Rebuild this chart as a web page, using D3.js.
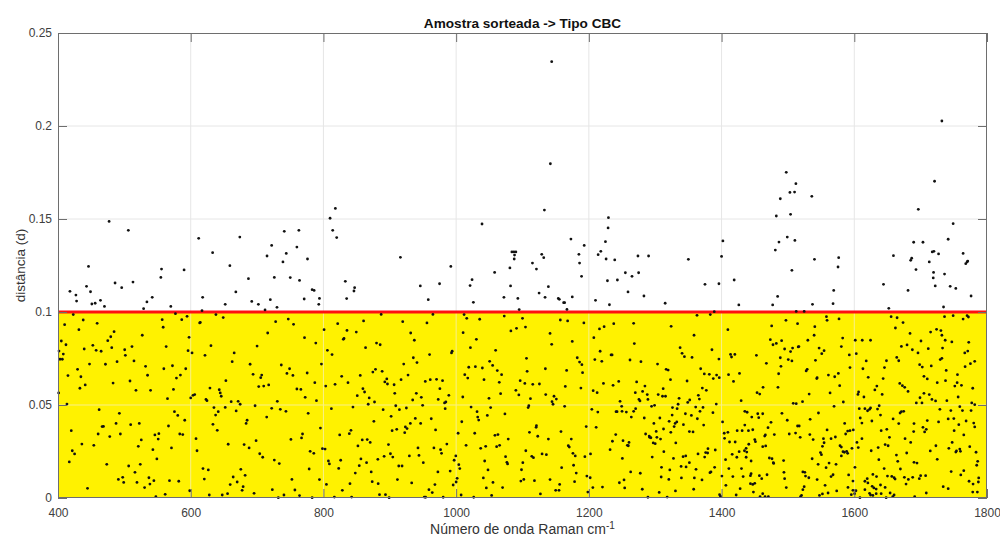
<!DOCTYPE html>
<html>
<head>
<meta charset="utf-8">
<script src="https://cdn.jsdelivr.net/npm/d3@7"></script>
<style>
  html, body { margin: 0; padding: 0; background: #fff; }
  svg { display: block; font-family: "Liberation Sans", Arial, Helvetica, sans-serif; }
</style>
</head>
<body>
<svg id="chart" width="1000" height="536"></svg>
<script>
// ---------------- data ----------------
const title = "Amostra sorteada -> Tipo CBC";
const xLabel = "Número de onda Raman cm";
const xLabelSup = "-1";
const yLabel = "distância (d)";
const xDomain = [400, 1800];
const yDomain = [0, 0.25];
const xTicks = [400, 600, 800, 1000, 1200, 1400, 1600, 1800];
const yTicks = [0, 0.05, 0.1, 0.15, 0.2, 0.25];
const threshold = 0.1;

// points above the threshold line [wavenumber, distance]
const pointsAbove = [
[418,0.1111],[427,0.1091],[428,0.1059],[443,0.1138],[446,0.1245],[449,0.1109],[451,0.1043],[456,0.1047],[464,0.1063],[470,0.1030],[477,0.1487],[486,0.1156],[496,0.1131],[506,0.1439],[513,0.1161],[529,0.1018],[534,0.1054],[542,0.1079],[555,0.1186],[556,0.1231],[570,0.1030],[590,0.1226],[612,0.1396],[618,0.1079],[617,0.1007],[633,0.1319],[652,0.1041],[659,0.1249],[668,0.1108],[674,0.1403],[687,0.1179],[692,0.1057],[702,0.1041],[712,0.1011],[715,0.1301],[720,0.1066],[722,0.1358],[726,0.1186],[730,0.1025],[739,0.1269],[741,0.1434],[744,0.1315],[750,0.1185],[760,0.1349],[763,0.1439],[764,0.1170],[771,0.1070],[776,0.1285],[783,0.1120],[786,0.1116],[793,0.1041],[794,0.1073],[810,0.1504],[818,0.1557],[814,0.1439],[820,0.1400],[833,0.1165],[835,0.1072],[846,0.1113],[847,0.1131],
[916,0.1294],[946,0.1140],[958,0.1066],[975,0.1152],[992,0.1245],[1021,0.1142],[1024,0.1174],[1026,0.1052],[1039,0.1473],[1058,0.1213],[1072,0.1079],[1081,0.1237],[1082,0.1140],[1084,0.1323],[1087,0.1323],[1090,0.1323],[1088,0.1306],[1087.5,0.1285],[1093,0.1073],[1095,0.1013],[1115,0.1263],[1121,0.1231],[1125,0.1102],[1129,0.1310],[1132,0.1292],[1133,0.1548],[1134,0.1079],[1139,0.1136],[1142,0.1797],[1144,0.2346],[1154,0.1073],[1155.5,0.1068],[1162,0.1050],[1163.5,0.1050],[1167,0.1014],[1173,0.1392],[1175,0.1081],[1185,0.1310],[1186,0.1263],[1189,0.1192],[1193,0.1358],[1210,0.1063],[1214,0.1308],[1218,0.1326],[1225,0.1378],[1226,0.1285],[1228,0.1168],[1229,0.1452],[1229.5,0.1507],[1231,0.1039],[1239,0.1280],[1243,0.1172],[1255,0.1211],[1259,0.1108],[1265,0.1192],[1274,0.1301],[1275,0.1211],[1283,0.1086],[1290,0.1301],[1315,0.1047],
[1350,0.1283],[1375,0.1149],[1389,0.1002],[1396,0.1152],[1400,0.1299],[1402,0.1382],[1419,0.1172],[1426,0.1038],[1477,0.1038],[1481,0.1333],[1482.5,0.1516],[1484.5,0.1084],[1486.5,0.1376],[1488.5,0.1609],[1497.5,0.1751],[1499,0.1403],[1503,0.1643],[1504,0.1525],[1506,0.1224],[1510,0.1645],[1510.5,0.1385],[1512,0.1690],[1512.5,0.1003],[1524.5,0.1003],[1536,0.1622],[1537,0.1041],[1540,0.1283],[1568,0.1045],[1569,0.1116],[1575.5,0.1242],[1576.5,0.1292],[1644,0.1149],[1652,0.1020],[1659,0.1303],[1681,0.1116],[1685,0.1278],[1686.5,0.1289],[1689.5,0.1375],[1693,0.1228],[1696.5,0.1552],[1703.5,0.1375],[1713,0.1269],[1717.5,0.1323],[1719,0.1183],[1719.5,0.1213],[1720,0.1326],[1721,0.1703],[1722,0.1140],[1727,0.1312],[1732,0.2027],[1734.5,0.1027],[1736,0.1204],[1741.5,0.1391],[1744.5,0.1138],[1749,0.1475],[1753,0.1127],[1764,0.1315],[1768,0.1260],[1770,0.1269],[1771,0.1274],[1776,0.1086]
];

// points below the threshold line, 400-800
const pointsBelowA = [
[423,0.0986],[438,0.0957],[410,0.0932],[459,0.0939],[431.5,0.0905],[484.5,0.0894],[479.5,0.0867],[475,0.0846],[405,0.0844],[412,0.0824],[452.5,0.0821],[439.5,0.0801],[457.5,0.0794],[465,0.0789],[481,0.0808],[401.5,0.0790],[408,0.0774],[403,0.0746],[406.5,0.0746],[500.5,0.0797],[511.5,0.0814],[501.5,0.0767],[527,0.0875],[557,0.0959],[558.5,0.0918],[577,0.0991],[586.5,0.0959],[594.5,0.0977],[597.5,0.0864],[563,0.0814],[596,0.0792],[514.5,0.0737],[489,0.0733],[471.5,0.0719],[447.5,0.0720],[429.5,0.0692],[415,0.0658],[434.5,0.0652],[532,0.0708],[559.5,0.0695],[572.5,0.0711],[592.5,0.0695],[584.5,0.0661],[578.5,0.0645],[535,0.0660],[508.5,0.0629],[483,0.0618],[441,0.0608],[433,0.0590],[401,0.0565],[517.5,0.0579],[539.5,0.0579],[574,0.0584],[565,0.0534],[413.5,0.0505],[600,0.0538],[603.5,0.0552],[606,0.0556],
[613.5,0.0941],[614.5,0.0944],[638,0.0986],[649,0.0970],[602,0.0780],[621.5,0.0767],[630.5,0.0819],[665.5,0.0780],[662.5,0.0733],[716,0.0887],[728,0.0948],[747,0.0962],[755,0.0934],[700,0.0817],[689.5,0.0719],[694,0.0665],[707,0.0661],[705.5,0.0647],[736.5,0.0715],[749,0.0695],[745,0.0670],[754,0.0659],[771.5,0.0862],[788.5,0.0833],[797,0.0720],[775.5,0.0672],[787,0.0620],[653,0.0631],[629,0.0591],[643,0.0582],[644.5,0.0565],[646,0.0547],[702.5,0.0599],[710,0.0602],[717.5,0.0608],[760,0.0586],[766,0.0584],[772.5,0.0541],[789.5,0.0523],[623,0.0530],[624.5,0.0523],[661,0.0518],[671.5,0.0520],[674.5,0.0504],[730.5,0.0520],
[462,0.0475],[492.5,0.0455],[575.5,0.0464],[580.5,0.0444],[591,0.0418],[487.5,0.0401],[509.5,0.0394],[522.5,0.0401],[468.5,0.0385],[466.5,0.0384],[566.5,0.0387],[420,0.0362],[460.5,0.0344],[494,0.0344],[478,0.0330],[546,0.0339],[552,0.0346],[551,0.0317],[583.5,0.0344],[588,0.0341],[525.5,0.0312],[436,0.0290],[454,0.0283],[521,0.0278],[543,0.0260],[571,0.0269],[421.5,0.0254],[425,0.0237],[549,0.0210],[417,0.0194],[473.5,0.0181],[506.5,0.0172],[524,0.0181],[516,0.0138],[491,0.0100],[497.5,0.0111],[499,0.0084],[519,0.0084],[537,0.0109],[544.5,0.0093],[538.5,0.0075],[530.5,0.0056],[568,0.0093],[582,0.0090],[444.5,0.0052],[547.5,0.0007],[561.5,0.0020],[598.5,0.0039],
[635,0.0486],[641.5,0.0464],[637.5,0.0446],[652,0.0487],[668.5,0.0468],[697,0.0496],[722,0.0482],[714.5,0.0435],[735,0.0477],[743.5,0.0466],[777,0.0455],[685,0.0418],[683.5,0.0401],[633.5,0.0396],[640,0.0364],[795.5,0.0376],[768.5,0.0344],[767,0.0323],[751,0.0315],[608,0.0319],[698.5,0.0308],[656.5,0.0289],[680.5,0.0287],[688,0.0269],[609.5,0.0254],[704,0.0238],[708.5,0.0219],[726,0.0204],[733.5,0.0185],[780,0.0251],[785.5,0.0240],[618.5,0.0158],[626.5,0.0151],[675.5,0.0154],[682,0.0122],[664,0.0113],[620.5,0.0102],[670,0.0086],[659.5,0.0072],[679,0.0061],[677.5,0.0041],[752.5,0.0100],[778.5,0.0156],[794,0.0099],[723,0.0045],[757,0.0043],[628,0.0016],[647.5,0.0016],[655.5,0.0023],[695.5,0.0025],[740.5,0.0016],[732,0.0002],[764,0.0013],[783,0.0002],[798.5,0.0265]
];

// points below the threshold line, 800-1200
const pointsBelowB = [
[887,0.0987],[821.5,0.0937],[860.5,0.0952],[919.5,0.0948],[956,0.0941],[965,0.0987],[801,0.0905],[835.5,0.0901],[849.5,0.0892],[831,0.0858],[830,0.0853],[931.5,0.0887],[937,0.0848],[880,0.0833],[885.5,0.0824],[863.5,0.0808],[806,0.0794],[813,0.0771],[960,0.0771],[993,0.0780],[994,0.0789],[935.5,0.0754],[921,0.0720],[941,0.0728],[878.5,0.0692],[874.5,0.0677],[888.5,0.0681],[855.5,0.0659],[827.5,0.0654],[895.5,0.0640],[927.5,0.0661],[917,0.0636],[892.5,0.0624],[896.5,0.0613],[906.5,0.0609],[837,0.0620],[817.5,0.0611],[803.5,0.0602],[953.5,0.0627],[961,0.0636],[970.5,0.0638],[979.5,0.0631],[859.5,0.0588],[862,0.0570],[851,0.0550],[869,0.0538],[877,0.0516],[867.5,0.0504],[907.5,0.0563],[940,0.0563],[934.5,0.0527],[947.5,0.0541],[975.5,0.0588],[989,0.0552],[973,0.0530],[982.5,0.0511],[984.5,0.0516],
[1012,0.0986],[1016,0.0966],[1035.5,0.0961],[1072.5,0.0978],[1100,0.0966],[1104.5,0.0919],[1091,0.0912],[1082.5,0.0898],[1157,0.0957],[1168,0.0952],[1192.5,0.0941],[1010.5,0.0889],[1030.5,0.0853],[1021.5,0.0808],[1141.5,0.0885],[1144,0.0826],[1175,0.0842],[1059.5,0.0794],[1106,0.0751],[1050.5,0.0735],[1055,0.0713],[1019,0.0703],[1029,0.0706],[1039.5,0.0699],[1062,0.0685],[1107,0.0681],[1182.5,0.0754],[1186,0.0731],[1189.5,0.0717],[1134.5,0.0695],[1166.5,0.0686],[1190.5,0.0674],[1013,0.0663],[1017.5,0.0645],[1068.5,0.0663],[1042,0.0636],[1065,0.0622],[1096.5,0.0631],[1103.5,0.0616],[1115.5,0.0611],[1125.5,0.0613],[1164.5,0.0600],[1188,0.0591],[1090,0.0579],[1094.5,0.0554],[1067,0.0561],[1010,0.0543],[1049.5,0.0536],[1112,0.0534],[1135,0.0556],[1147.5,0.0547],[1151,0.0532],[1144.5,0.0518],[1146,0.0504],[1109.5,0.0496],[1108.5,0.0486],[1163.5,0.0493],
[812,0.0480],[844.5,0.0489],[890,0.0475],[909,0.0496],[914.5,0.0475],[925,0.0484],[949.5,0.0498],[983.5,0.0480],[902,0.0439],[876,0.0412],[938.5,0.0428],[962.5,0.0426],[931,0.0401],[946.5,0.0401],[923.5,0.0382],[926,0.0373],[910.5,0.0369],[903.5,0.0362],[969,0.0366],[922.5,0.0351],[841.5,0.0364],[839,0.0346],[824.5,0.0339],[858.5,0.0312],[866,0.0314],[870.5,0.0299],[898,0.0287],[852,0.0280],[986,0.0290],[942.5,0.0269],[966.5,0.0269],[976.5,0.0260],[978,0.0240],[802.5,0.0263],[901,0.0238],[904.5,0.0220],[891.5,0.0224],[882,0.0208],[856.5,0.0210],[944,0.0229],[929.5,0.0226],[826,0.0203],[807.5,0.0199],[809,0.0183],[865,0.0190],[950.5,0.0190],[854,0.0174],[823,0.0159],[913.5,0.0172],[918.5,0.0172],[997,0.0203],[999.5,0.0226],[991,0.0145],[848,0.0134],[872,0.0140],[972.5,0.0140],[911.5,0.0099],[873.5,0.0088],[882.5,0.0077],[933,0.0081],[840,0.0077],[804.5,0.0073],[968,0.0072],[995.5,0.0070],[959,0.0045],[964,0.0029],[828.5,0.0041],[884.5,0.0018],[893.5,0.0018],[899,0.0002],[842.5,0.0005],[816.5,0.0005],[952,0.0005],[954,0.0004],[980.5,0.0004],
[1022.5,0.0489],[1052,0.0486],[1031.5,0.0464],[1032.5,0.0435],[1034,0.0419],[1047,0.0444],[1073.5,0.0452],[1008.5,0.0410],[1003,0.0348],[1028,0.0348],[1058.5,0.0337],[1063,0.0341],[1078.5,0.0317],[1110.5,0.0353],[1120.5,0.0380],[1121,0.0389],[1123,0.0332],[1139,0.0317],[1158,0.0357],[1173.5,0.0317],[1196,0.0384],[1015,0.0283],[1037,0.0267],[1044.5,0.0278],[1061,0.0276],[1065.5,0.0283],[1105,0.0254],[1114,0.0224],[1116.5,0.0217],[1074.5,0.0222],[1043,0.0199],[1076.5,0.0192],[1077.5,0.0183],[1100.5,0.0190],[1129.5,0.0237],[1136,0.0233],[1169,0.0281],[1170.5,0.0274],[1176,0.0240],[1179.5,0.0226],[1194,0.0222],[1004,0.0179],[1005.5,0.0158],[1048,0.0151],[1098.5,0.0152],[1159,0.0163],[1177,0.0176],[1181,0.0134],[1197,0.0118],[1000,0.0086],[1001.5,0.0106],[1041,0.0108],[1055.5,0.0084],[1070,0.0056],[1045.5,0.0054],[1097.5,0.0091],[1102,0.0100],[1118,0.0093],[1141.5,0.0099],[1156,0.0073],[1178.5,0.0088],[1150,0.0041],[1155,0.0041],[1127,0.0022],[1007.5,0.0016],[1026.5,0.0004],[1053.5,0.0014],[1198.5,0.0032]
];

// points below the threshold line, 1200-1600
const pointsBelowC = [
[1363,0.0982],[1383,0.0986],[1223,0.0921],[1216,0.0909],[1237.5,0.0937],[1267.5,0.0939],[1324,0.0923],[1207.5,0.0862],[1358.5,0.0875],[1268.5,0.0830],[1337.5,0.0808],[1217,0.0789],[1233.5,0.0769],[1235,0.0769],[1340.5,0.0778],[1344,0.0760],[1355.5,0.0756],[1385.5,0.0797],[1396,0.0747],[1209,0.0744],[1219.5,0.0735],[1262,0.0742],[1278.5,0.0733],[1303.5,0.0720],[1316.5,0.0692],[1319.5,0.0688],[1368.5,0.0695],[1374,0.0667],[1381.5,0.0665],[1392.5,0.0661],[1396.5,0.0647],[1387.5,0.0642],[1323,0.0636],[1348,0.0629],[1222,0.0616],[1236.5,0.0606],[1245,0.0627],[1272,0.0624],[1284.5,0.0602],[1312,0.0588],[1371,0.0591],[1377,0.0579],[1206.5,0.0577],[1212.5,0.0566],[1270,0.0566],[1281,0.0573],[1288,0.0556],[1289,0.0530],[1304.5,0.0556],[1311,0.0547],[1315.5,0.0547],[1275.5,0.0530],[1277,0.0522],[1336,0.0536],[1352,0.0527],[1349,0.0514],[1365,0.0552],[1366.5,0.0532],[1247,0.0520],[1392,0.0505],[1334.5,0.0504],
[1409.5,0.0905],[1475.5,0.0925],[1497,0.0955],[1514.5,0.0937],[1540.5,0.0921],[1558,0.0975],[1559,0.0955],[1577,0.0963],[1582.5,0.0860],[1580.5,0.0814],[1539.5,0.0875],[1530,0.0848],[1473.5,0.0851],[1477.5,0.0824],[1482.5,0.0831],[1490.5,0.0846],[1495,0.0801],[1507,0.0806],[1504,0.0787],[1515.5,0.0812],[1516.5,0.0814],[1547,0.0806],[1554.5,0.0792],[1551,0.0776],[1413.5,0.0772],[1415,0.0758],[1420,0.0772],[1452.5,0.0767],[1488.5,0.0754],[1500.5,0.0744],[1506,0.0737],[1541.5,0.0740],[1592.5,0.0769],[1467.5,0.0724],[1489.5,0.0708],[1529,0.0692],[1527.5,0.0683],[1593.5,0.0701],[1410.5,0.0663],[1427,0.0670],[1486,0.0668],[1544,0.0647],[1543.5,0.0642],[1561,0.0661],[1570.5,0.0652],[1576,0.0670],[1418,0.0627],[1462.5,0.0595],[1485,0.0595],[1578,0.0604],[1453.5,0.0566],[1457.5,0.0559],[1532,0.0559],[1563.5,0.0565],[1429.5,0.0523],[1508,0.0509],[1512.5,0.0507],[1522,0.0518],[1583.5,0.0516],[1569.5,0.0493],
[1204.5,0.0477],[1213.5,0.0462],[1242.5,0.0464],[1241,0.0464],[1250,0.0466],[1249.5,0.0493],[1256.5,0.0462],[1267.5,0.0466],[1270.5,0.0480],[1264,0.0435],[1283.5,0.0430],[1294.5,0.0493],[1299,0.0498],[1326,0.0486],[1333,0.0480],[1325.5,0.0446],[1345.5,0.0453],[1354.5,0.0444],[1361,0.0489],[1372,0.0487],[1367.5,0.0466],[1387,0.0459],[1307,0.0430],[1321,0.0412],[1332.5,0.0409],[1330,0.0401],[1342.5,0.0394],[1363.5,0.0426],[1373,0.0392],[1298,0.0401],[1328.5,0.0384],[1211,0.0380],[1301.5,0.0358],[1312.5,0.0371],[1323.5,0.0353],[1351.5,0.0357],[1357,0.0355],[1285.5,0.0344],[1240.5,0.0341],[1291,0.0333],[1293.5,0.0324],[1291.5,0.0326],[1302.5,0.0326],[1308,0.0317],[1235.5,0.0305],[1251.5,0.0308],[1260.5,0.0299],[1258,0.0283],[1259.5,0.0281],[1297,0.0296],[1300,0.0292],[1331,0.0296],[1379.5,0.0265],[1376,0.0244],[1379,0.0242],[1390.5,0.0258],[1232,0.0260],[1313,0.0249],[1202.5,0.0237],[1364.5,0.0237],[1342,0.0222],[1346,0.0226],[1374.5,0.0220],[1250.5,0.0213],[1295.5,0.0220],[1327.5,0.0213],[1351.5,0.0190],[1339,0.0170],[1346.5,0.0167],[1361.5,0.0154],[1309.5,0.0165],[1322,0.0151],[1389.5,0.0165],[1382.5,0.0136],[1384,0.0140],[1263,0.0140],[1277.5,0.0133],[1309,0.0113],[1320.5,0.0100],[1339.5,0.0108],[1359,0.0108],[1370.5,0.0097],[1253,0.0097],[1246,0.0082],[1202,0.0109],[1206,0.0056],[1220.5,0.0059],[1254,0.0054],[1280.5,0.0047],[1306,0.0030],[1330.5,0.0038],[1358,0.0047],[1289,0.0004],[1318,0.0005],[1397,0.0018],[1398.5,0.0009],
[1435,0.0466],[1438.5,0.0461],[1454.5,0.0453],[1456,0.0432],[1462,0.0453],[1445.5,0.0435],[1491,0.0455],[1499,0.0418],[1514.5,0.0387],[1517,0.0387],[1533.5,0.0423],[1546,0.0457],[1474.5,0.0407],[1401.5,0.0409],[1470,0.0378],[1435,0.0392],[1423.5,0.0362],[1431,0.0362],[1440.5,0.0362],[1447,0.0367],[1404,0.0348],[1409.5,0.0353],[1404.5,0.0321],[1466,0.0339],[1465,0.0333],[1479.5,0.0341],[1502,0.0344],[1511.5,0.0349],[1533,0.0341],[1559,0.0366],[1585.5,0.0401],[1590,0.0360],[1593.5,0.0362],[1598.5,0.0366],[1587,0.0344],[1412,0.0301],[1420.5,0.0301],[1450,0.0314],[1451,0.0303],[1462,0.0276],[1466.5,0.0280],[1441,0.0289],[1518.5,0.0326],[1538,0.0314],[1553.5,0.0319],[1565,0.0319],[1571.5,0.0328],[1437,0.0267],[1416,0.0235],[1426.5,0.0249],[1434.5,0.0254],[1438,0.0247],[1423,0.0219],[1437,0.0219],[1406,0.0206],[1472,0.0215],[1476,0.0211],[1493.5,0.0201],[1478,0.0190],[1478.5,0.0186],[1444.5,0.0199],[1536.5,0.0211],[1549,0.0244],[1550.5,0.0233],[1554.5,0.0297],[1552,0.0278],[1578.5,0.0281],[1580.5,0.0274],[1585,0.0246],[1590,0.0240],[1588.5,0.0251],[1583,0.0249],[1596.5,0.0267],[1580.5,0.0226],[1545.5,0.0181],[1562,0.0188],[1557.5,0.0163],[1572.5,0.0181],[1411,0.0158],[1430,0.0158],[1400.5,0.0118],[1417,0.0115],[1444.5,0.0131],[1443.5,0.0120],[1432.5,0.0115],[1457,0.0120],[1460.5,0.0104],[1468.5,0.0125],[1494,0.0138],[1495,0.0104],[1522.5,0.0140],[1525.5,0.0138],[1526.5,0.0118],[1531.5,0.0109],[1544,0.0099],[1568,0.0125],[1565,0.0115],[1591.5,0.0124],[1598,0.0091],[1406.5,0.0068],[1428,0.0050],[1443.5,0.0077],[1447,0.0073],[1450,0.0079],[1448,0.0032],[1422,0.0016],[1462,0.0023],[1465.5,0.0007],[1470.5,0.0007],[1458,0.0007],[1497.5,0.0056],[1524.5,0.0061],[1522.5,0.0045],[1520.5,0.0014],[1519,0.0007],[1556,0.0068],[1547.5,0.0014],[1552,0.0022],[1560.5,0.0027],[1573.5,0.0038],[1590.5,0.0057],[1598,0.0041],[1595.5,0.0018],[1600.5,0.0023]
];

// points below the threshold line, 1600-1800
const pointsBelowD = [
[1655.5,0.0975],[1664.5,0.0969],[1673.5,0.0943],[1662,0.0914],[1736,0.0975],[1749,0.0980],[1764,0.0962],[1770,0.0980],[1772,0.0973],[1684,0.0885],[1715,0.0892],[1724,0.0907],[1730.5,0.0900],[1732,0.0875],[1601.5,0.0848],[1612,0.0848],[1624.5,0.0848],[1700.5,0.0844],[1737,0.0848],[1747,0.0839],[1772.5,0.0837],[1671,0.0815],[1679.5,0.0823],[1687.5,0.0797],[1711.5,0.0803],[1733,0.0806],[1771,0.0790],[1766.5,0.0780],[1603,0.0776],[1696,0.0780],[1664,0.0756],[1667,0.0738],[1729.5,0.0744],[1732,0.0751],[1618,0.0737],[1648.5,0.0738],[1781.5,0.0735],[1775,0.0722],[1698.5,0.0717],[1702.5,0.0704],[1716,0.0710],[1767,0.0706],[1613,0.0695],[1645.5,0.0701],[1738.5,0.0686],[1755.5,0.0663],[1705,0.0654],[1710,0.0640],[1621,0.0649],[1643.5,0.0642],[1737.5,0.0631],[1755,0.0620],[1751.5,0.0602],[1761.5,0.0606],[1725,0.0620],[1668.5,0.0616],[1672.5,0.0604],[1676,0.0595],[1634,0.0602],[1631,0.0581],[1681,0.0573],[1778.5,0.0590],[1606.5,0.0570],[1605.5,0.0557],[1614.5,0.0543],[1642,0.0557],[1705,0.0563],[1713,0.0556],[1717,0.0530],[1722.5,0.0522],[1699,0.0539],[1739.5,0.0523],[1756.5,0.0543],[1693.5,0.0511],[1702,0.0511],[1777,0.0511],[1781.5,0.0502],
[1607.5,0.0480],[1616,0.0480],[1620,0.0469],[1624.5,0.0484],[1623,0.0477],[1637.5,0.0496],[1635,0.0478],[1671,0.0464],[1674.5,0.0466],[1669,0.0457],[1729,0.0477],[1745.5,0.0470],[1759,0.0491],[1763,0.0470],[1776,0.0470],[1639.5,0.0446],[1609,0.0430],[1611.5,0.0403],[1658.5,0.0425],[1626.5,0.0414],[1667,0.0400],[1690,0.0400],[1710,0.0416],[1727,0.0409],[1741.5,0.0425],[1750,0.0427],[1768.5,0.0414],[1780,0.0403],[1781.5,0.0382],[1757.5,0.0394],[1703.5,0.0380],[1708.5,0.0369],[1706,0.0355],[1640.5,0.0362],[1649,0.0369],[1750.5,0.0362],[1689.5,0.0357],[1765,0.0339],[1653,0.0326],[1676.5,0.0319],[1611.5,0.0319],[1604,0.0299],[1747.5,0.0299],[1685,0.0299],[1646.5,0.0287],[1651,0.0281],[1723,0.0281],[1606,0.0271],[1636,0.0271],[1625.5,0.0254],[1742.5,0.0267],[1759,0.0263],[1754,0.0253],[1753,0.0247],[1760,0.0251],[1774,0.0276],[1783.5,0.0246],[1714.5,0.0253],[1663.5,0.0231],[1679,0.0242],[1637,0.0206],[1665.5,0.0197],[1725,0.0208],[1786,0.0197],[1784.5,0.0176],[1690,0.0192],[1694.5,0.0188],[1601,0.0165],[1645,0.0158],[1669.5,0.0156],[1765,0.0147],[1746,0.0142],[1760.5,0.0124],[1628,0.0127],[1633.5,0.0115],[1650,0.0118],[1656.5,0.0116],[1660,0.0109],[1661.5,0.0102],[1675.5,0.0111],[1681.5,0.0100],[1688,0.0111],[1698,0.0104],[1700,0.0120],[1707.5,0.0120],[1619.5,0.0104],[1616,0.0090],[1620.5,0.0081],[1773,0.0090],[1779,0.0075],[1787.5,0.0108],[1787,0.0086],[1678,0.0075],[1639.5,0.0070],[1627,0.0063],[1629.5,0.0054],[1633,0.0048],[1628,0.0014],[1616,0.0045],[1623,0.0025],[1624.5,0.0016],[1633,0.0023],[1602.5,0.0039],[1646.5,0.0057],[1640.5,0.0023],[1654,0.0027],[1660,0.0016],[1648,0.0002],[1658,0.0007],[1691,0.0007],[1708.5,0.0027],[1734,0.0061],[1741.5,0.0050],[1778.5,0.0032],[1785.5,0.0032],[1608.5,0.0002]
];

// ---------------- drawing ----------------
const W = 1000, H = 536;
const margin = { left: 58, right: 13, top: 33, bottom: 38 };
const svg = d3.select("#chart");

const x = d3.scaleLinear().domain(xDomain).range([margin.left, W - margin.right]);
const y = d3.scaleLinear().domain(yDomain).range([H - margin.bottom, margin.top]);

const x0 = x(xDomain[0]), x1 = x(xDomain[1]);
const y0 = y(yDomain[0]), y1 = y(yDomain[1]);
const yT = y(threshold);

// plot background
svg.append("rect").attr("x", x0).attr("y", y1).attr("width", x1 - x0).attr("height", y0 - y1).attr("fill", "#fff");

// grid (white region)
const grid = svg.append("g");
grid.selectAll("line.vx").data(xTicks.slice(1, -1)).join("line")
  .attr("x1", d => x(d)).attr("x2", d => x(d)).attr("y1", y1).attr("y2", y0)
  .attr("stroke", "#e6e6e6").attr("stroke-width", 1);
grid.selectAll("line.hy").data(yTicks.slice(1, -1)).join("line")
  .attr("x1", x0).attr("x2", x1).attr("y1", d => y(d)).attr("y2", d => y(d))
  .attr("stroke", "#e6e6e6").attr("stroke-width", 1);

// yellow area below threshold
svg.append("rect").attr("x", x0).attr("y", yT).attr("width", x1 - x0).attr("height", y0 - yT)
  .attr("fill", "#fff200");

// pale grid over the yellow area
const grid2 = svg.append("g");
grid2.selectAll("line").data(xTicks.slice(1, -1)).join("line")
  .attr("x1", d => x(d)).attr("x2", d => x(d)).attr("y1", yT).attr("y2", y0)
  .attr("stroke", "#f8f08a").attr("stroke-width", 1);
grid2.selectAll("line.h").data(yTicks.filter(v => v > 0 && v < threshold)).join("line")
  .attr("x1", x0).attr("x2", x1).attr("y1", d => y(d)).attr("y2", d => y(d))
  .attr("stroke", "#f8f08a").attr("stroke-width", 1);

// threshold line
svg.append("line").attr("x1", x0).attr("x2", x1).attr("y1", yT).attr("y2", yT)
  .attr("stroke", "#ff1010").attr("stroke-width", 2.8);

// points
const allPoints = pointsAbove.concat(pointsBelowA, pointsBelowB, pointsBelowC, pointsBelowD);
svg.append("g").selectAll("circle").data(allPoints).join("circle")
  .attr("cx", d => x(d[0])).attr("cy", d => y(d[1])).attr("r", 1.4)
  .attr("fill", "#111");

// axes
const axisColor = "#6e6e6e";
const fmtY = d => String(+d.toFixed(2));
const gx = svg.append("g").attr("transform", `translate(0,${y0})`)
  .call(d3.axisBottom(x).tickValues(xTicks).tickSize(-9).tickPadding(10).tickFormat(d3.format("d")));
const gxt = svg.append("g").attr("transform", `translate(0,${y1})`)
  .call(d3.axisTop(x).tickValues(xTicks).tickSize(-9).tickFormat(""));
const gy = svg.append("g").attr("transform", `translate(${x0},0)`)
  .call(d3.axisLeft(y).tickValues(yTicks).tickSize(-9).tickPadding(6).tickFormat(fmtY));
const gyr = svg.append("g").attr("transform", `translate(${x1},0)`)
  .call(d3.axisRight(y).tickValues(yTicks).tickSize(-9).tickFormat(""));

[gx, gxt, gy, gyr].forEach(g => {
  g.select(".domain").remove();
  g.selectAll(".tick line").attr("stroke", axisColor);
  g.selectAll(".tick text").attr("fill", "#404040")
    .attr("font-size", "12px").attr("font-family", '"Liberation Sans", Arial, sans-serif');
});

// frame
svg.append("rect").attr("x", x0 + 0.5).attr("y", y1 + 0.5)
  .attr("width", x1 - x0 - 1).attr("height", y0 - y1 - 1)
  .attr("fill", "none").attr("stroke", axisColor).attr("stroke-width", 1);

// title
svg.append("text").attr("x", (x0 + x1) / 2).attr("y", 28)
  .attr("text-anchor", "middle").attr("font-size", "13.6px").attr("font-weight", "bold")
  .attr("fill", "#111").text(title);

// x label
const xl = svg.append("text").attr("x", (x0 + x1) / 2).attr("y", 534)
  .attr("text-anchor", "middle").attr("font-size", "14px").attr("fill", "#333");
xl.append("tspan").text(xLabel);
xl.append("tspan").attr("font-size", "10px").attr("dy", "-5").text(xLabelSup);

// y label
svg.append("text").attr("transform", `translate(25,${(y0 + y1) / 2}) rotate(-90)`)
  .attr("text-anchor", "middle").attr("font-size", "13.5px").attr("fill", "#333").text(yLabel);
</script>
</body>
</html>
